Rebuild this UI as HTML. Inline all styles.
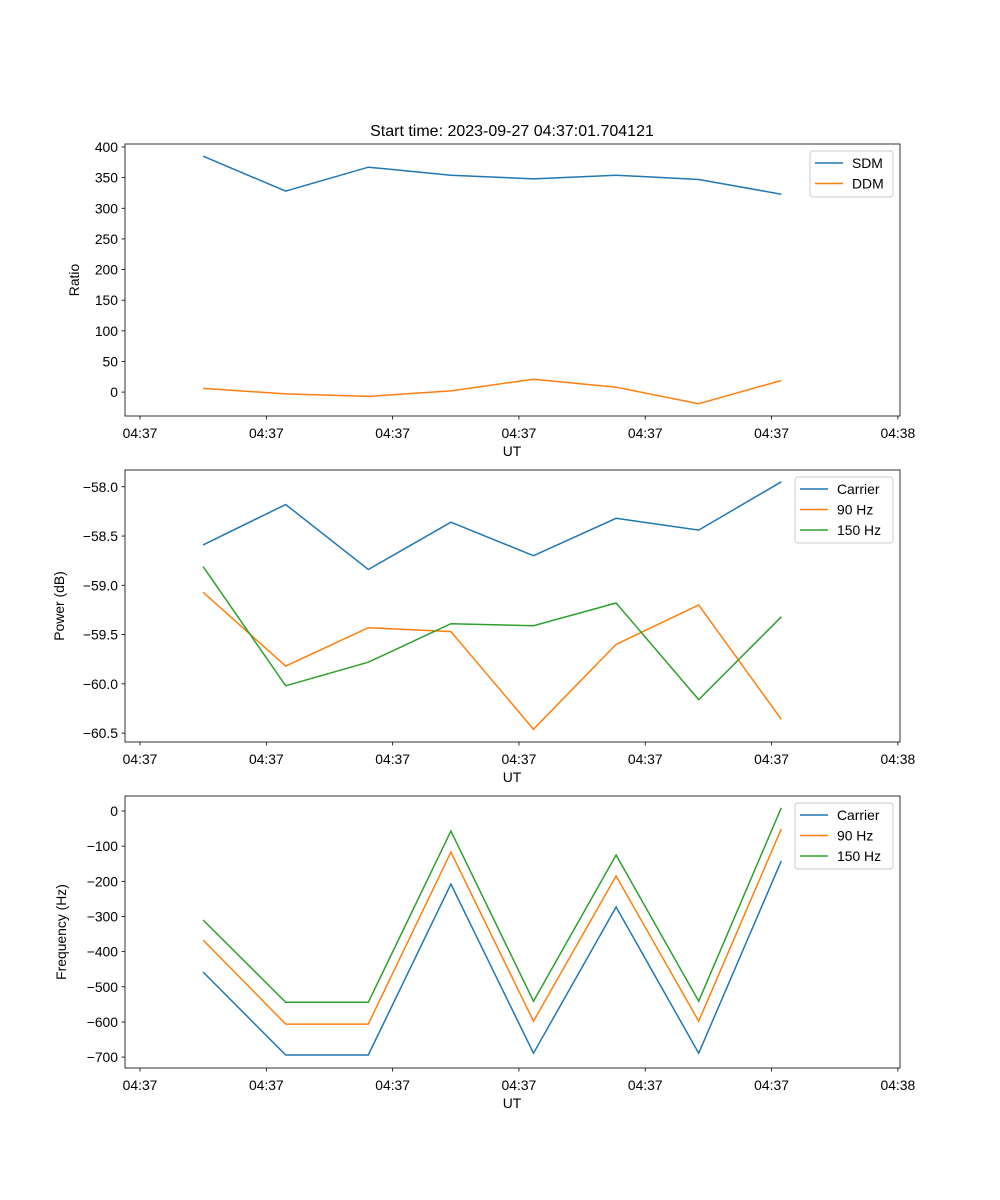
<!DOCTYPE html>
<html><head><meta charset="utf-8"><style>
html,body{margin:0;padding:0;background:#fff;}
svg{display:block;font-family:"Liberation Sans","DejaVu Sans",sans-serif;}
</style></head><body>
<svg id="fig" width="1000" height="1200" xmlns="http://www.w3.org/2000/svg">
<rect width="1000" height="1200" fill="#fff"/>
<text x="512" y="136" font-size="16" text-anchor="middle">Start time: 2023-09-27 04:37:01.704121</text>
</svg>
<script>
const xIdx = [0,1,2,3,4,5,6,7];
const xTickLabels = ["04:37","04:37","04:37","04:37","04:37","04:37","04:38"];
const sdm = [385,328,367,354,348,354,347,323];
const ddm = [6,-3,-7,2,21,8,-19,19];
const ratioTicks = [0,50,100,150,200,250,300,350,400];
const powCarrier = [-58.59,-58.18,-58.84,-58.36,-58.70,-58.32,-58.44,-57.95];
const pow90 = [-59.07,-59.82,-59.43,-59.47,-60.46,-59.60,-59.20,-60.36];
const pow150 = [-58.81,-60.02,-59.78,-59.39,-59.41,-59.18,-60.16,-59.32];
const powTicks = [-60.5,-60.0,-59.5,-59.0,-58.5,-58.0];
const frqCarrier = [-458,-694,-694,-208,-689,-273,-689,-142];
const frq90 = [-367,-606,-606,-117,-598,-185,-598,-51];
const frq150 = [-310,-544,-544,-57,-541,-125,-541,9];
const frqTicks = [-700,-600,-500,-400,-300,-200,-100,0];

const NS="http://www.w3.org/2000/svg";
const svg=document.getElementById('fig');
function mk(t,a,p){const e=document.createElementNS(NS,t);for(const k in a)e.setAttribute(k,a[k]);(p||svg).appendChild(e);return e;}
const L=125,R=900;
const X0=-0.119,X1=6.017;
function xs(t){return L+(t-X0)/(X1-X0)*(R-L);}
function xOfIdx(i){return xs(0.499+i*0.654);}
const C=["#1f77b4","#ff7f0e","#2ca02c"];
function fmt(v,d){const s=v.toFixed(d);return v<0?"\u2212"+s.slice(1):s;}

function panel(name,top,bot,ymin,ymax,ticks,dec,ylabel,ylabX,series,labels,leg){
  const g=mk('g',{});
  
  
  const ys=v=>bot-(v-ymin)/(ymax-ymin)*(bot-top);
  series.forEach((s,k)=>{
    const d=s.map((v,i)=>(i?'L':'M')+xOfIdx(xIdx[i]).toFixed(1)+','+ys(v).toFixed(1)).join('');
    const p=mk('path',{d:d,fill:'none',stroke:C[k],'stroke-width':1.5},g);
    
    
  });
  mk('rect',{x:L,y:top,width:R-L,height:bot-top,fill:'none',stroke:'#000','stroke-width':0.8},g);
  ticks.forEach(v=>{
    const y=ys(v);
    mk('line',{x1:L-3.5,x2:L,y1:y,y2:y,stroke:'#000','stroke-width':0.8},g);
    const t=mk('text',{x:L-7,y:y+5,'font-size':13.9,'text-anchor':'end'},g);
    t.textContent=fmt(v,dec);
    
    
  });
  xTickLabels.forEach((lab,i)=>{
    const x=xs(i);
    mk('line',{x1:x,x2:x,y1:bot,y2:bot+3.5,stroke:'#000','stroke-width':0.8},g);
    const t=mk('text',{x:x,y:bot+22,'font-size':13.9,'text-anchor':'middle'},g);
    t.textContent=lab;
    
    
  });
  const xt=mk('text',{x:512,y:bot+40,'font-size':13.9,'text-anchor':'middle'},g);
  xt.textContent='UT';
  
  
  const cy=(top+bot)/2;
  const yt=mk('text',{x:ylabX,y:cy,'font-size':13.9,'text-anchor':'middle',transform:'rotate(-90 '+ylabX+' '+cy+')'},g);
  yt.textContent=ylabel;
  
  
  const lg=mk('g',{},g);
  
  
  mk('rect',{x:leg[0],y:top+7,width:R-7-leg[0],height:labels.length*20+6,rx:3,fill:'#fff','fill-opacity':0.8,stroke:'#ccc'},lg);
  labels.forEach((lab,k)=>{
    const y=top+19+k*20.5;
    mk('line',{x1:leg[0]+5,x2:leg[0]+33,y1:y,y2:y,stroke:C[k],'stroke-width':1.5},lg);
    const t=mk('text',{x:leg[0]+42,y:y+5,'font-size':13.9},lg);
    t.textContent=lab;
    
    
  });
}
panel('ratio-panel',144,416,-39,404.9,ratioTicks,0,'Ratio',79,[sdm,ddm],['SDM','DDM'],[810]);
panel('power-panel',470,742,-60.59,-57.83,powTicks,1,'Power (dB)',64,[powCarrier,pow90,pow150],['Carrier','90 Hz','150 Hz'],[795]);
panel('frequency-panel',796,1068,-731,42.7,frqTicks,0,'Frequency (Hz)',66,[frqCarrier,frq90,frq150],['Carrier','90 Hz','150 Hz'],[795]);
</script>
</body></html>
